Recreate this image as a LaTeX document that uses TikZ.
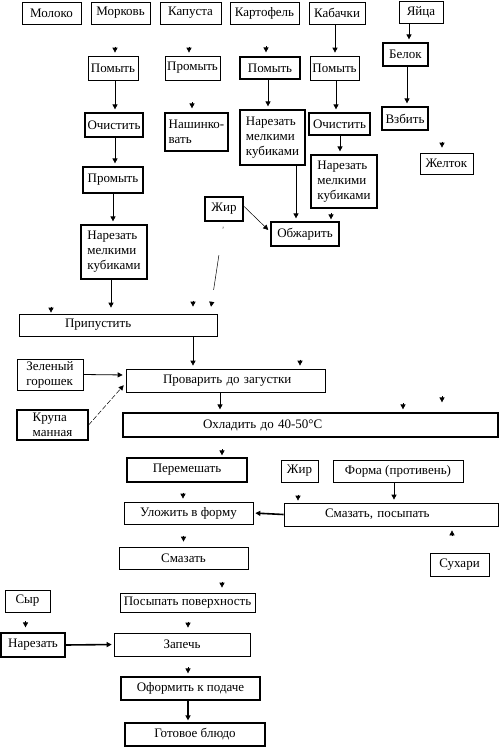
\documentclass[tikz,border=0pt]{standalone}
\usepackage{fontspec}
\setmainfont{Liberation Serif}
\usetikzlibrary{arrows.meta}

\begin{document}
\begin{tikzpicture}[x=1pt, y=-1pt, font=\fontsize{13}{15}\selectfont,
        >={Triangle[width=5pt,length=5pt]},
        box/.style={draw, line width=0.7pt, inner sep=2pt, minimum height=22, align=left},
        boxb/.style={box, line width=1.2pt},
        link/.style={->, line width=0.7pt, shorten >=3pt},
        heavy/.style={->, line width=1.6pt, shorten >=2pt},
        thinlink/.style={->, line width=0.5pt, shorten >=3pt},
        stub/.style={->, line width=0.7pt}]
    \useasboundingbox (0,0) rectangle (499,747);
    % sources
    \node[box, minimum width=59] (moloko)  at (51.5,13)  {Молоко};
    \node[box, minimum width=59] (morkov)  at (120.5,13) {Морковь};
    \node[box, minimum width=61] (kapusta) at (190.5,13) {Капуста};
    \node[box, minimum width=69] (kartof)  at (264.5,13) {Картофель};
    \node[box, minimum width=56] (kabach)  at (337,13)   {Кабачки};
    \node[box, minimum width=44] (yaitsa)  at (421,12)   {Яйца};
    % vegetables
    \node[box, minimum width=50, minimum height=24] (pomytM)  at (113,68)   {Помыть};
    \node[box, minimum width=55, minimum height=24] (promytK) at (192.5,68) {Промыть};
    \node[boxb, minimum width=60] (pomytKa) at (270,68)   {Помыть};
    \node[box, minimum width=49, minimum height=24] (pomytZ)  at (334.5,68) {Помыть};
    \node[boxb, minimum width=45, minimum height=23] (belok)  at (405.5,54.5) {Белок};
    \node[boxb, minimum width=58, minimum height=24] (ochistM) at (114,125) {Очистить};
    \node[boxb, minimum width=63, minimum height=38] (nashK)   at (196.5,132) {Нашинко-\\вать};
    \node[boxb, minimum width=65, minimum height=55] (narezKa) at (272.5,137.5) {Нарезать\\мелкими\\кубиками};
    \node[boxb, minimum width=61] (ochistZ) at (339.5,124) {Очистить};
    \node[boxb, minimum width=46, minimum height=23] (vzbit) at (405,118.5) {Взбить};
    \node[boxb, minimum width=66, minimum height=53] (narezZ)  at (344,181.5) {Нарезать\\мелкими\\кубиками};
    \node[box, minimum width=53, minimum height=21] (zheltok)  at (446.5,163.5) {Желток};
    \node[boxb, minimum width=60, minimum height=26] (promytM) at (113,180) {Промыть};
    \node[boxb, minimum width=38, minimum height=24] (zhir)    at (224,209) {Жир};
    \node[boxb, minimum width=68, minimum height=24] (obzhar)  at (305,234) {Обжарить};
    \node[boxb, minimum width=66, minimum height=54] (narezM)  at (114,252) {Нарезать\\мелкими\\кубиками};
    % cooking
    \node[box, text width=194] (pripust) at (118,325) {\hspace*{44pt}Припустить};
    \node[box, minimum width=66, minimum height=31] (goroh) at (50,374.5) {Зеленый\\горошек};
    \node[box, text width=195, minimum height=23] (prov) at (225.5,380.5) {\hspace*{35pt}Проварить до загустки};
    \node[boxb, minimum width=71, minimum height=30] (krupa) at (52.5,425) {Крупа\\манная};
    \node[boxb, text width=371, minimum height=24] (ohl) at (310.5,425) {\hspace*{78pt}Охладить до 40-50°С};
    \node[boxb, minimum width=120, minimum height=24] (perem) at (187,470) {Перемешать};
    \node[box, minimum width=37] (zhirB) at (299.5,471) {Жир};
    \node[box, minimum width=130] (forma) at (398,471) {Форма (противень)};
    \node[box, minimum width=129] (ulozh) at (188.5,513) {Уложить в форму};
    \node[box, text width=210, minimum height=23] (smpos) at (391,514.5) {\hspace*{39pt}Смазать, посыпать};
    \node[box, minimum width=129] (smaz) at (183.5,558) {Смазать};
    \node[box, minimum width=59, minimum height=23] (sukhari) at (459.5,564.5) {Сухари};
    \node[box, minimum width=45] (syr) at (27.5,601) {Сыр};
    \node[box, minimum width=135, minimum height=19] (posyp) at (187.5,602.5) {Посыпать поверхность};
    \node[boxb, minimum width=64, minimum height=24] (narezS) at (33,645) {Нарезать};
    \node[box, minimum width=136, minimum height=23] (zapech) at (182,644.5) {Запечь};
    \node[boxb, minimum width=139, minimum height=23] (oform) at (190.5,688.5) {Оформить к подаче};
    \node[boxb, minimum width=140, minimum height=23] (gotov) at (195,734.5) {Готовое блюдо};
    % connectors
    \draw[link] ([xshift=-2]kabach.south) -- ([xshift=-2]kabach.south |- pomytZ.north);
    \draw[link] ([xshift=-12]yaitsa.south) -- ([xshift=-12]yaitsa.south |- belok.north);
    \draw[link] ([xshift=2]pomytM.south) -- ([xshift=2]pomytM.south |- ochistM.north);
    \draw[link] ([xshift=-2]pomytKa.south) -- ([xshift=-2]pomytKa.south |- narezKa.north);
    \draw[link] ([xshift=1.5]pomytZ.south) -- ([xshift=1.5]pomytZ.south |- ochistZ.north);
    \draw[link] ([xshift=1.5]belok.south) -- ([xshift=1.5]belok.south |- vzbit.north);
    \draw[link] ([xshift=0.5]ochistZ.south) -- ([xshift=0.5]ochistZ.south |- narezZ.north);
    \draw[link] ([xshift=1]ochistM.south) -- ([xshift=1]ochistM.south |- promytM.north);
    \draw[link] (promytM.south) -- (promytM.south |- narezM.north);
    \draw[link] ([xshift=23.5]narezKa.south) -- ([xshift=23.5]narezKa.south |- obzhar.north);
    \draw[link, shorten >=6pt] ([xshift=-3]narezM.south) -- ([xshift=-3]narezM.south |- pripust.north);
    \draw[link] ([xshift=75]pripust.south) -- ([xshift=75]pripust.south |- prov.north);
    \draw[link] ([xshift=-5.5]prov.south) -- ([xshift=-5.5]prov.south |- ohl.north);
    \draw[link] ([xshift=-4]forma.south) -- ([xshift=-4]forma.south |- smpos.north);
    \draw[thinlink] ([yshift=3]zhir.east) -- ([yshift=2]obzhar.west);
    \draw[thinlink, shorten >=7pt, dash pattern=on 0pt off 5pt on 2pt off 27pt on 35pt off 40pt]
        (zhir.south) -- ([xshift=92]pripust.north);
    \draw[thinlink, line width=0.8pt] (goroh.east) -- ([yshift=5.5]prov.west);
    \draw[thinlink, dash pattern=on 5pt off 2pt] (krupa.east) -- ([yshift=-2.5]prov.west);
    \draw[heavy] (smpos.west) -- (ulozh.east);
    \draw[heavy] (narezS.east) -- (zapech.west);
    \draw[heavy] ([xshift=-2.5]oform.south) -- ([xshift=-2.5]oform.south |- gotov.north);
    \foreach \n/\dx/\g in {pomytM/2/3, promytK/-3.5/3, pomytKa/-4/4, nashK/-4.5/4,
            zheltok/-4.5/5, obzhar/26/2, pripust/75/7, pripust/-67/1, prov/74.5/3,
            ohl/92.5/3, ohl/131.5/10, perem/35/2, ulozh/-5.5/3, smpos/-93/2,
            smaz/0/5, posyp/34.5/5, narezS/-7.5/5, zapech/6/5, oform/-2.5/3}
        \draw[stub] ([xshift=\dx, yshift=\g]\n.north) ++(0,-6) -- ++(0,6);
    \draw[stub] ([xshift=61, yshift=-4]smpos.south) ++(0,6) -- ++(0,-6);
\end{tikzpicture}
\end{document}
